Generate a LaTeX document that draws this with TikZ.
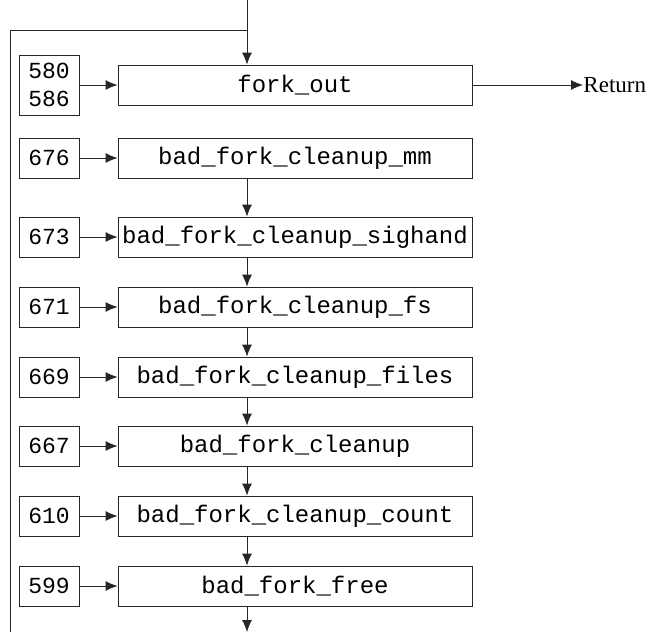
\documentclass[tikz,border=0pt]{standalone}
\usepackage{fontspec}
\setmainfont{Liberation Serif}
\setmonofont{Liberation Mono}
\usetikzlibrary{arrows.meta}
\begin{document}
\begin{tikzpicture}[x=1pt,y=-1pt,
  line width=0.9pt, draw=black!85,
  mainbox/.style={draw=black!85, minimum width=354pt, minimum height=40pt, inner sep=0pt, font=\fontsize{24}{28}\selectfont\ttfamily},
  numbox/.style={draw=black!85, minimum width=60pt, minimum height=40pt, inner sep=0pt, align=center, font=\fontsize{23}{28}\selectfont\ttfamily},
  arr/.style={-{Latex[length=12pt,width=10pt]}, draw=black!85}]
\useasboundingbox (0,0) rectangle (650,632);
% main boxes
\node[mainbox] (b0) at (295,85) {fork\_out};
\node[mainbox] (b1) at (295,158) {bad\_fork\_cleanup\_mm};
\node[mainbox] (b2) at (295,237) {bad\_fork\_cleanup\_sighand};
\node[mainbox] (b3) at (295,307) {bad\_fork\_cleanup\_fs};
\node[mainbox] (b4) at (295,377) {bad\_fork\_cleanup\_files};
\node[mainbox] (b5) at (295,446) {bad\_fork\_cleanup};
\node[mainbox] (b6) at (295,516) {bad\_fork\_cleanup\_count};
\node[mainbox] (b7) at (295,586) {bad\_fork\_free};
% number boxes
\node[numbox, minimum height=60pt] (n0) at (49,85) {580\\[0pt]586};
\node[numbox] (n1) at (49,158) {676};
\node[numbox] (n2) at (49,237) {673};
\node[numbox] (n3) at (49,307) {671};
\node[numbox] (n4) at (49,377) {669};
\node[numbox] (n5) at (49,446) {667};
\node[numbox] (n6) at (49,516) {610};
\node[numbox] (n7) at (49,586) {599};
% return
\node[anchor=west, inner sep=0pt, font=\fontsize{23}{28}\selectfont] (ret) at (583,85) {Return};
\draw[arr] (b0.east) -- (ret.west);
% number arrows
\foreach \i in {0,...,7} {\draw[arr] (n\i.east) -- (b\i.west);}
% coordinates
\coordinate (top) at (247,0);
\coordinate (loopc) at (247,30);
\coordinate (loopl) at (10,30);
\coordinate (loopb) at (10,632);
\coordinate (bot) at (247,632);
\draw[arr] (top) -- (top |- b0.north);
\draw (loopc) -- (loopl) -- (loopb);
\foreach \i/\j in {1/2,2/3,3/4,4/5,5/6,6/7} {\draw[arr] (top |- b\i.south) -- (top |- b\j.north);}
\draw[arr] (top |- b7.south) -- (bot);
\end{tikzpicture}
\end{document}
